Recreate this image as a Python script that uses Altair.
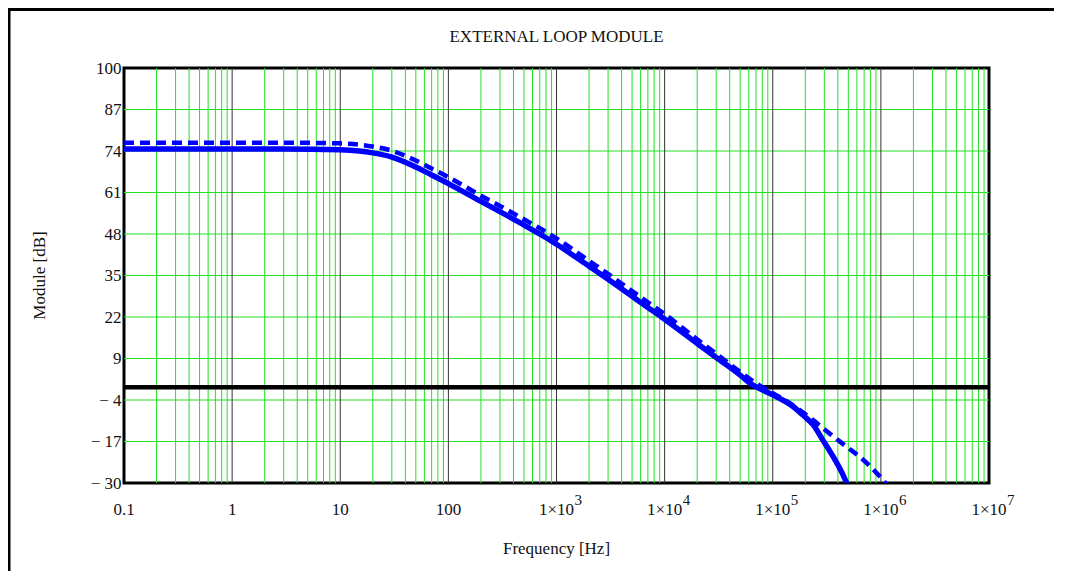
import altair as alt
import pandas as pd

# ---- data ----
freq_solid = [0.1, 1, 3, 10, 15, 20, 30, 50, 70, 100, 200, 300, 500, 700, 1000,
              2000, 3000, 5000, 7000, 10000, 20000, 30000, 50000, 62000, 80000, 100000,
              155000, 190000, 237000, 290000, 360000, 434000, 490000]
db_solid = [74.6, 74.6, 74.6, 74.4, 74.0, 73.4, 72.1, 69.0, 66.5, 63.8, 58.2, 55.0, 50.8, 48.0, 44.8,
            37.9, 33.8, 28.5, 25.0, 21.3, 13.7, 9.3, 3.8, 1.2, -0.8, -2.4,
            -6.1, -8.7, -11.8, -16.5, -21.6, -26.6, -30.5]

freq_dashed = [0.1, 1, 3, 10, 15, 20, 30, 50, 70, 100, 200, 300, 500, 700, 1000,
               2000, 3000, 5000, 7000, 10000, 20000, 30000, 50000, 72000, 100000,
               137000, 187000, 236000, 290000, 350000, 480000, 690000, 980000, 1140000]
db_dashed = [76.6, 76.6, 76.6, 76.4, 76.0, 75.4, 74.1, 71.0, 68.5, 65.8, 60.0, 56.8, 52.6, 49.8, 46.6,
             39.6, 35.5, 30.1, 26.6, 22.9, 15.0, 10.5, 4.8, 1.0, -1.9,
             -4.5, -7.7, -10.3, -12.8, -15.0, -18.6, -22.8, -28.0, -30.6]

y_ticks = [-30, -17, -4, 9, 22, 35, 48, 61, 74, 87, 100]
decades = [0.1, 1, 10, 100, 1e3, 1e4, 1e5, 1e6, 1e7]
x_base_labels = ["0.1", "1", "10", "100", "1×10", "1×10", "1×10", "1×10", "1×10"]
x_exp_labels = ["", "", "", "", "3", "4", "5", "6", "7"]
minor_freqs = [m * d for d in decades[:-1] for m in range(2, 10)]

title_text = "EXTERNAL LOOP MODULE"
x_title = "Frequency [Hz]"
y_title = "Module [dB]"

FONT = "Liberation Serif"
W, H = 865, 415
GREEN = "#22e022"

xscale = alt.Scale(type="log", domain=[0.1, 1e7], nice=False)
yscale = alt.Scale(domain=[-30, 100], nice=False, zero=False)
yaxis = alt.Axis(values=y_ticks, title=None, grid=False, ticks=False, domain=False,
                 labelFont=FONT, labelFontSize=17, labelColor="#111", labelPadding=3,
                 labelExpr="datum.value < 0 ? '\u2212 ' + (-datum.value) : '' + datum.value")

X = alt.X("f:Q", scale=xscale, axis=None)
Y = alt.Y("db:Q", scale=yscale, axis=yaxis)

minor_df = pd.DataFrame({"f": minor_freqs})
dec_df = pd.DataFrame({"f": decades[1:-1]})
hgrid_df = pd.DataFrame({"db": y_ticks[1:-1]})
zero_df = pd.DataFrame({"db": [0]})
solid_df = pd.DataFrame({"f": freq_solid, "db": db_solid})
dashed_df = pd.DataFrame({"f": freq_dashed, "db": db_dashed})
lab_df = pd.DataFrame({"f": decades, "base": x_base_labels, "exp": x_exp_labels})
one = pd.DataFrame({"a": [0]})

minor = alt.Chart(minor_df).mark_rule(color=GREEN, strokeWidth=1).encode(x=X)
hgrid = alt.Chart(hgrid_df).mark_rule(color=GREEN, strokeWidth=1).encode(y=Y)
dec = alt.Chart(dec_df).mark_rule(color="#333", strokeWidth=1).encode(x=X)
zero = alt.Chart(zero_df).mark_rule(color="black", strokeWidth=4.5).encode(y=Y)

solid = alt.Chart(solid_df).mark_line(color="#0000ff", strokeWidth=5.5, clip=True,
                                      interpolate="monotone").encode(x=X, y=Y)
dashed = alt.Chart(dashed_df).mark_line(color="#0000ff", strokeWidth=4.5, clip=True,
                                        strokeDash=[10, 6], interpolate="monotone").encode(x=X, y=Y)

xlab = alt.Chart(lab_df).mark_text(font=FONT, fontSize=17, color="#111", align="center",
                                   baseline="alphabetic").encode(
    x=X, y=alt.value(H + 32), text="base:N")
xexp = alt.Chart(lab_df).mark_text(font=FONT, fontSize=15, color="#111", align="left",
                                   baseline="alphabetic", dx=18).encode(
    x=X, y=alt.value(H + 22), text="exp:N")

title = alt.Chart(one).mark_text(font=FONT, fontSize=17, color="#111", align="center",
                                 baseline="alphabetic").encode(
    x=alt.value(W / 2), y=alt.value(-26), text=alt.value(title_text))
xt = alt.Chart(one).mark_text(font=FONT, fontSize=17, color="#111", align="center",
                              baseline="alphabetic").encode(
    x=alt.value(W / 2), y=alt.value(H + 71), text=alt.value(x_title))
yt = alt.Chart(one).mark_text(font=FONT, fontSize=17, color="#111", align="center",
                              baseline="middle", angle=270).encode(
    x=alt.value(-84), y=alt.value(H / 2), text=alt.value(y_title))

frame_top = alt.Chart(one).mark_rect(color="black").encode(
    x=alt.value(-116.5), x2=alt.value(930), y=alt.value(-60), y2=alt.value(-57))
frame_left = alt.Chart(one).mark_rect(color="black").encode(
    x=alt.value(-116.5), x2=alt.value(-113.5), y=alt.value(-60), y2=alt.value(H + 110))

chart = alt.layer(
    minor, hgrid, dec, zero, solid, dashed, xlab, xexp, title, xt, yt, frame_top, frame_left
).properties(
    width=W, height=H,
    autosize=alt.AutoSizeParams(type="none"),
    padding={"left": 116, "top": 60, "right": 70, "bottom": 88},
    background="white",
).configure_view(stroke="black", strokeWidth=3)

chart.save("out.html", embed_options={"renderer": "svg", "actions": False})
